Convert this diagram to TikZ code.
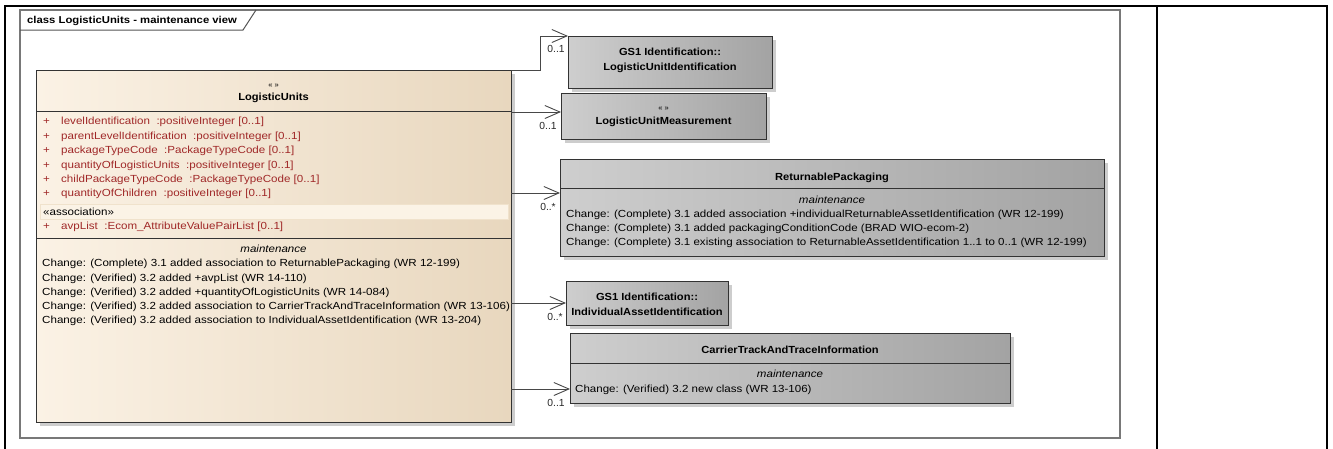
\documentclass[tikz,border=0pt]{standalone}
\usepackage{fontspec}
\setmainfont{Liberation Sans}
\newfontfamily\lufont[FakeStretch=1.125]{Liberation Sans}
\newfontfamily\gyfont[FakeStretch=1.12]{Liberation Sans}
\newfontfamily\tifont[FakeStretch=1.08]{Liberation Sans}
\newfontfamily\tabfont[FakeStretch=1.13]{Liberation Sans}
\usetikzlibrary{arrows.meta,shadows}
\definecolor{luL}{RGB}{251,242,229}
\definecolor{luR}{RGB}{232,215,190}
\definecolor{bandc}{RGB}{251,243,230}
\definecolor{bandb}{RGB}{240,226,204}
\definecolor{gyL}{RGB}{206,206,206}
\definecolor{gyR}{RGB}{163,163,163}
\definecolor{shad}{RGB}{205,205,205}
\definecolor{attrc}{RGB}{160,40,40}
\definecolor{framec}{RGB}{120,120,120}
\tikzset{
  txt/.style={inner sep=0pt, text height=7.6pt, text depth=0pt, font=\fontsize{10.3}{12}\selectfont},
  lutxt/.style={txt, anchor=west, font=\fontsize{10.3}{12}\selectfont\lufont},
  gytxt/.style={txt, anchor=west, font=\fontsize{10.3}{12}\selectfont\gyfont},
  btxt/.style={txt, font=\fontsize{10.3}{12}\selectfont\tifont\bfseries},
  itxt/.style={txt, font=\fontsize{10.3}{12}\selectfont\gyfont\itshape},
  attr/.style={lutxt, text=attrc},
  guil/.style={txt, font=\fontsize{7.5}{9}\selectfont},
  mult/.style={txt, text=black!85},
  lubox/.style={draw=black!80, line width=0.8pt, left color=luL, right color=luR,
    anchor=north west, inner sep=0pt, outer sep=0pt,
    general shadow={fill=shad, shadow xshift=3.5pt, shadow yshift=-3.5pt}},
  gybox/.style={lubox, left color=gyL, right color=gyR},
  sepline/.style={draw=black!80, line width=0.8pt},
  assoc/.style={draw=black!72, line width=0.9pt, -{Straight Barb[length=15pt,width=13pt]}},
  tbl/.style={draw=black, line width=2pt},
}
\begin{document}
\begin{tikzpicture}[x=1pt,y=-1pt]
\useasboundingbox (0,0) rectangle (1333,448);
% outer table
\draw[tbl] (5,460) -- (5,6) -- (1327,6) -- (1327,460);
\draw[tbl] (1157,6) -- (1157,460);
% frame
\draw[draw=framec, line width=1.3pt] (20,10) rectangle (1120,438);
\draw[draw=framec!70!black, line width=1pt] (20,30) -- (243,30) -- (256,10);
\node[txt, anchor=west, font=\fontsize{10}{12}\selectfont\tabfont\bfseries] (title) at (27,20) {class LogisticUnits - maintenance view};

% LogisticUnits
\node[lubox, minimum width=475pt, minimum height=352pt] (lu) at (36,70) {};
\node[guil] (lug) at (273.5,84) {« »};
\node[btxt] (lun) at (273.5,97) {LogisticUnits};
\draw[sepline] (lu.west |- 0,111) -- (lu.east |- 0,111);
\foreach \t [count=\i] in {{levelIdentification\ \ :positiveInteger [0..1]},
  {parentLevelIdentification\ \ :positiveInteger [0..1]},
  {packageTypeCode\ \ :PackageTypeCode [0..1]},
  {quantityOfLogisticUnits\ \ :positiveInteger [0..1]},
  {childPackageTypeCode\ \ :PackageTypeCode [0..1]},
  {quantityOfChildren\ \ :positiveInteger [0..1]}} {
  \node[attr] (lup\i) at (43,{121+14.4*(\i-1)}) {+};
  \node[attr] (lua\i) at (61,{121+14.4*(\i-1)}) {\t};
}
\node[draw=bandb, fill=bandc, line width=0.6pt, anchor=north west, inner sep=0pt,
  minimum width=468pt, minimum height=15pt] (band) at (40,204) {};
\node[lutxt] (assoc) at (43,212) {«association»};
\node[attr] (lup7) at (43,226) {+};
\node[attr] (lua7) at (61,226) {avpList\ \ :Ecom\_AttributeValuePairList [0..1]};
\draw[sepline] (lu.west |- 0,238) -- (lu.east |- 0,238);
\node[itxt] (lum1) at (273.5,249) {maintenance};
\foreach \t [count=\i] in {{Change: (Complete) 3.1 added association to ReturnablePackaging (WR 12-199)},
  {Change: (Verified) 3.2 added +avpList (WR 14-110)},
  {Change: (Verified) 3.2 added +quantityOfLogisticUnits (WR 14-084)},
  {Change: (Verified) 3.2 added association to CarrierTrackAndTraceInformation (WR 13-106)},
  {Change: (Verified) 3.2 added association to IndividualAssetIdentification (WR 13-204)}} {
  \node[lutxt] (luc\i) at (42,{263+14.25*(\i-1)}) {\t};
}

% LogisticUnitIdentification
\node[gybox, minimum width=204pt, minimum height=52pt] (lui) at (568,36) {};
\node[btxt] (lui1) at (670,52) {GS1 Identification::};
\node[btxt] (lui2) at (670,67) {LogisticUnitIdentification};

% LogisticUnitMeasurement
\node[gybox, minimum width=205pt, minimum height=46pt] (lum) at (561,93) {};
\node[guil] (lumg) at (663.5,107) {« »};
\node[btxt] (lumn) at (663.5,121) {LogisticUnitMeasurement};

% ReturnablePackaging
\node[gybox, minimum width=544pt, minimum height=97pt] (rp) at (560,159) {};
\node[btxt] (rpn) at (832,177) {ReturnablePackaging};
\draw[sepline] (rp.west |- 0,188) -- (rp.east |- 0,188);
\node[itxt] (rpm) at (832,200) {maintenance};
\foreach \t [count=\i] in {{Change: (Complete) 3.1 added association +individualReturnableAssetIdentification (WR 12-199)},
  {Change: (Complete) 3.1 added packagingConditionCode (BRAD WIO-ecom-2)},
  {Change: (Complete) 3.1 existing association to ReturnableAssetIdentification 1..1 to 0..1 (WR 12-199)}} {
  \node[gytxt] (rpc\i) at (566,{214+14*(\i-1)}) {\t};
}

% IndividualAssetIdentification
\node[gybox, minimum width=162pt, minimum height=44pt] (iai) at (566,281) {};
\node[btxt] (iai1) at (647,297) {GS1 Identification::};
\node[btxt] (iai2) at (647,312) {IndividualAssetIdentification};

% CarrierTrackAndTraceInformation
\node[gybox, minimum width=440pt, minimum height=70pt] (ctti) at (570,333) {};
\node[btxt] (cttin) at (790,350) {CarrierTrackAndTraceInformation};
\draw[sepline] (ctti.west |- 0,363) -- (ctti.east |- 0,363);
\node[itxt] (cttim) at (790,374) {maintenance};
\node[gytxt] (cttic) at (575,389) {Change: (Verified) 3.2 new class (WR 13-106)};

% connectors
\coordinate (k1) at (540,70);
\draw[assoc] (lu.north east) -- (k1) |- (lui.north west);
\draw[assoc] (lu.east |- 0,112) -- (lum.west |- 0,112);
\draw[assoc] (lu.east |- 0,193) -- (rp.west |- 0,193);
\draw[assoc] (lu.east |- 0,303) -- (iai.west |- 0,303);
\draw[assoc] (lu.east |- 0,389) -- (ctti.west |- 0,389);

% multiplicities
\node[mult] (m1) at (556,49) {0..1};
\node[mult] (m2) at (548,126) {0..1};
\node[mult] (m3) at (548,207) {0..*};
\node[mult] (m4) at (555,317) {0..*};
\node[mult] (m5) at (556,403) {0..1};
\end{tikzpicture}
\end{document}
